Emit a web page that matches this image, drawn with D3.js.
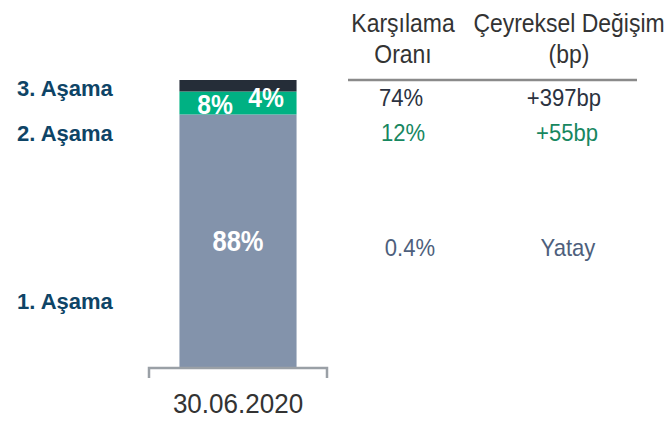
<!DOCTYPE html>
<html><head><meta charset="utf-8">
<script src="https://cdn.jsdelivr.net/npm/d3@7"></script>
<style>
body{margin:0;background:#fff;}
text{font-family:"Liberation Sans",Arial,sans-serif;}
</style></head>
<body><svg id="c" width="669" height="422"></svg>
<script>
const categories = ["30.06.2020"];
const stages = ["1. Aşama", "2. Aşama", "3. Aşama"];
const shares = [88, 8, 4];
const coverage = ["0.4%", "12%", "74%"];
const qoqChange = ["Yatay", "+55bp", "+397bp"];
const headers = [["Karşılama", "Oranı"], ["Çeyreksel Değişim", "(bp)"]];

const colors = ["#8393ab", "#00b183", "#252d38"];
const tableColors = ["#4e5f7c", "#17875f", "#2b3240"];

const svg = d3.select("#c");
const x = d3.scaleBand().domain(categories).range([149, 327]).paddingInner(0).paddingOuter(0.26);
const y = d3.scaleLinear().domain([0, 100]).range([367, 80]);

function txt(px, py, str, size, sx, opts = {}) {
  return svg.append("text")
    .attr("transform", `translate(${px},${py}) scale(${sx},1)`)
    .attr("text-anchor", opts.anchor || "middle")
    .attr("font-size", size)
    .attr("font-weight", opts.bold ? "bold" : "normal")
    .attr("fill", opts.fill || "#333")
    .text(str);
}

let cum = 0;
const segs = shares.map((v, i) => { const s = {i, v, y0: cum, y1: cum + v}; cum += v; return s; });

svg.selectAll("rect.seg").data(segs).enter().append("rect")
  .attr("x", x(categories[0])).attr("width", x.bandwidth())
  .attr("y", d => y(d.y1)).attr("height", d => y(d.y0) - y(d.y1))
  .attr("fill", d => colors[d.i]);

// axis
const axis = d3.axisBottom(x).tickSize(0).tickFormat("");
const ag = svg.append("g").attr("transform", "translate(0,368)").call(axis);
ag.select(".domain").remove();
ag.append("path").attr("d", "M149,10V0H327V10").attr("fill", "none").attr("stroke", "#9aa0a6").attr("stroke-width", 2.5);
const cx = x(categories[0]) + x.bandwidth() / 2;
txt(cx, 413, categories[0], 28, 0.93, {fill: "#333"});

// in-bar labels
txt(cx, (y(segs[0].y0) + y(segs[0].y1)) / 2 + 10, shares[0] + "%", 29, 0.88, {bold: true, fill: "#fff"});
txt(cx - 23, y(segs[1].y0), shares[1] + "%", 28, 0.88, {bold: true, fill: "#fff"});
txt(cx + 28, y(segs[1].y0) - 7, shares[2] + "%", 28, 0.88, {bold: true, fill: "#fff"});

// stage labels
const stageY = [309, 141, 96];
stages.forEach((s, i) => txt(17, stageY[i], s, 22, 1, {anchor: "start", bold: true, fill: "#0e4466"}));

// table header
const colX = [403, 569];
headers.forEach((h, j) => {
  h.forEach((t, k) => txt(colX[j], 32 + k * 31, t, 25.5, 0.9, {fill: "#333"}));
});
svg.append("line").attr("x1", 348).attr("x2", 637).attr("y1", 80).attr("y2", 80).attr("stroke", "#8a8a8a").attr("stroke-width", 2.5);

const rowY = [256, 141, 106];
const covX = [410, 403, 401];
const chgX = [568, 567, 564];
coverage.forEach((c, i) => txt(covX[i], rowY[i], c, 24, 0.92, {fill: tableColors[i]}));
qoqChange.forEach((c, i) => txt(chgX[i], rowY[i], c, 24, 0.92, {fill: tableColors[i]}));
</script></body></html>
